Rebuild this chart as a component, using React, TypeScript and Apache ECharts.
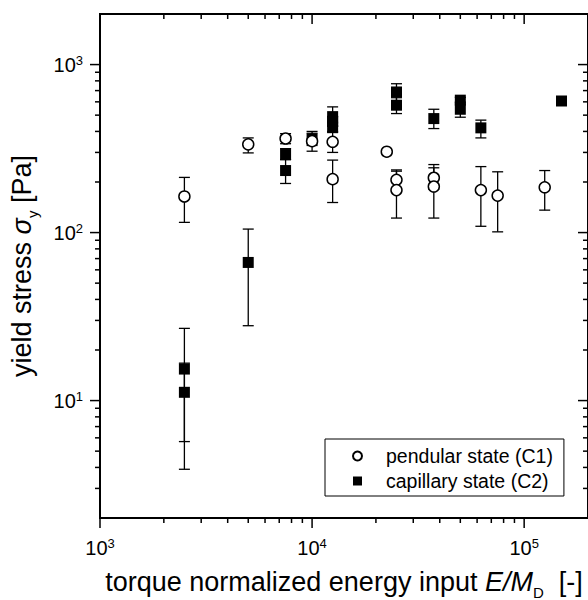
import React, { useEffect, useRef } from 'react';
import * as echarts from 'echarts';

const FONT = '"Liberation Sans", Arial, Helvetica, sans-serif';

const X_MIN = 1000;
const X_MAX = 200000;
const Y_MIN = 2;
const Y_MAX = 2000;

const xMajorTicks = [1000, 10000, 100000];
const xMinorTicks = [2000, 3000, 4000, 5000, 6000, 7000, 8000, 9000, 20000, 30000, 40000, 50000, 60000, 70000, 80000, 90000];
const yMajorTicks = [10, 100, 1000];
const yMinorTicks = [3, 4, 5, 6, 7, 8, 9, 20, 30, 40, 50, 60, 70, 80, 90, 200, 300, 400, 500, 600, 700, 800, 900];

const pendularName = 'pendular state (C1)';
const pendularE = [2500, 5000, 7500, 10000, 12500, 12500, 22500, 25000, 25000, 37500, 37500, 62500, 75000, 125000];
const pendularStress = [164, 335, 363, 350, 347, 208, 303, 206, 179, 212, 188, 179, 166, 186];
const pendularLow = [115, 298, 338, 305, 300, 151, 298, 180, 122, 181, 122, 109, 101, 136];
const pendularHigh = [213, 366, 388, 400, 394, 270, 308, 232, 236, 243, 254, 247, 230, 234];

const capillaryName = 'capillary state (C2)';
const capillaryE = [2500, 2500, 5000, 7500, 7500, 10000, 12500, 12500, 12500, 25000, 25000, 37500, 50000, 50000, 62500, 150000];
const capillaryStress = [15.4, 11.2, 66.4, 294, 234, 360, 490, 460, 424, 687, 573, 477, 614, 542, 420, 607];
const capillaryLow = [3.9, 5.7, 27.9, 272, 196, 330, 430, 430, 400, 605, 511, 416, 590, 486, 366, 595];
const capillaryHigh = [26.9, 16.7, 104.9, 316, 272, 390, 560, 490, 450, 769, 635, 542, 638, 598, 467, 619];

const xTitle = '{n|torque normalized energy input }{i|E/M}{d|D}{n|  [-]}';
const yTitle = '{n|yield stress }{i|σ}{d|y}{n| [Pa]}';

const tickStyle = { stroke: '#000', lineWidth: 1.5 };
const labelRich = {
  b: { fontSize: 20, lineHeight: 22, fontFamily: FONT, fill: '#000', color: '#000' },
  s: { fontSize: 13, lineHeight: 8, verticalAlign: 'top', fontFamily: FONT, fill: '#000', color: '#000' },
};

function expLabel(v: number) {
  return '{b|10}{s|' + String(Math.round(Math.log10(v))) + '}';
}

function renderXTick(params: any, api: any) {
  const v = api.value(0);
  const major = api.value(2) === 1;
  const len = major ? 10 : 5;
  const pb = api.coord([v, Y_MIN]);
  const pt = api.coord([v, Y_MAX]);
  const children: any[] = [
    { type: 'line', shape: { x1: pb[0], y1: pb[1], x2: pb[0], y2: pb[1] + len }, style: tickStyle },
    { type: 'line', shape: { x1: pt[0], y1: pt[1], x2: pt[0], y2: pt[1] + len }, style: tickStyle },
  ];
  if (major) {
    children.push({
      type: 'text',
      x: pb[0],
      y: pb[1] + 19,
      style: { text: expLabel(v), rich: labelRich, align: 'center', verticalAlign: 'top', fill: '#000' },
    });
  }
  return { type: 'group', children };
}

function renderYTick(params: any, api: any) {
  const v = api.value(1);
  const major = api.value(2) === 1;
  const len = major ? 10 : 5;
  const pl = api.coord([X_MIN, v]);
  const pr = api.coord([X_MAX, v]);
  const children: any[] = [
    { type: 'line', shape: { x1: pl[0] - len, y1: pl[1], x2: pl[0], y2: pl[1] }, style: tickStyle },
    { type: 'line', shape: { x1: pr[0] - len, y1: pr[1], x2: pr[0], y2: pr[1] }, style: tickStyle },
  ];
  if (major) {
    children.push({
      type: 'text',
      x: pl[0] - 17,
      y: pl[1],
      style: { text: expLabel(v), rich: labelRich, align: 'right', verticalAlign: 'middle', fill: '#000' },
    });
  }
  return { type: 'group', children };
}

function renderErrorBar(params: any, api: any) {
  const x = api.value(0);
  const lo = api.coord([x, api.value(1)]);
  const hi = api.coord([x, api.value(2)]);
  const hw = 5.5;
  const style = { stroke: '#000', lineWidth: 1.3 };
  return {
    type: 'group',
    children: [
      { type: 'line', shape: { x1: lo[0], y1: lo[1], x2: hi[0], y2: hi[1] }, style },
      { type: 'line', shape: { x1: lo[0] - hw, y1: lo[1], x2: lo[0] + hw, y2: lo[1] }, style },
      { type: 'line', shape: { x1: hi[0] - hw, y1: hi[1], x2: hi[0] + hw, y2: hi[1] }, style },
    ],
  };
}

export default function App() {
  const ref = useRef<HTMLDivElement>(null);
  useEffect(() => {
    if (!ref.current) return;
    const chart = echarts.init(ref.current, undefined, { renderer: 'svg' });

    const xTickData = [
      ...xMajorTicks.map((v) => [v, 10, 1]),
      ...xMinorTicks.map((v) => [v, 10, 0]),
    ];
    const yTickData = [
      ...yMajorTicks.map((v) => [X_MIN, v, 1]),
      ...yMinorTicks.map((v) => [X_MIN, v, 0]),
    ];
    const pendularPts = pendularE.map((e, i) => [e, pendularStress[i]]);
    const capillaryPts = capillaryE.map((e, i) => [e, capillaryStress[i]]);
    const pendularErr = pendularE.map((e, i) => [e, pendularLow[i], pendularHigh[i]]);
    const capillaryErr = capillaryE.map((e, i) => [e, capillaryLow[i], capillaryHigh[i]]);

    const titleRich = {
      n: { fontSize: 27, lineHeight: 36, fontFamily: FONT, color: '#000' },
      i: { fontSize: 27, lineHeight: 36, fontFamily: FONT, fontStyle: 'italic', color: '#000' },
      d: { fontSize: 15, lineHeight: 6, verticalAlign: 'bottom', fontFamily: FONT, color: '#000' },
    };

    const option: any = {
      animation: false,
      backgroundColor: '#fff',
      grid: {
        left: 100,
        top: 14,
        right: 0,
        bottom: 82,
        containLabel: false,
        outerBoundsMode: 'none',
        show: true,
        borderColor: '#000',
        borderWidth: 2,
        backgroundColor: 'transparent',
      },
      xAxis: {
        type: 'log',
        logBase: 10,
        min: X_MIN,
        max: X_MAX,
        axisLine: { show: false },
        axisTick: { show: false },
        axisLabel: { show: false },
        splitLine: { show: false },
        name: xTitle,
        nameLocation: 'middle',
        nameGap: 46,
        nameTextStyle: { rich: titleRich, fontFamily: FONT, fontSize: 27, color: '#000' },
      },
      yAxis: {
        type: 'log',
        logBase: 10,
        min: Y_MIN,
        max: Y_MAX,
        axisLine: { show: false },
        axisTick: { show: false },
        axisLabel: { show: false },
        splitLine: { show: false },
        name: yTitle,
        nameLocation: 'middle',
        nameRotate: 90,
        nameGap: 60,
        nameTextStyle: { rich: titleRich, fontFamily: FONT, fontSize: 27, color: '#000' },
      },
      legend: {
        data: [pendularName, capillaryName],
        orient: 'vertical',
        left: 325,
        top: 439,
        padding: [7, 11, 5, 27],
        itemGap: 5,
        itemWidth: 9,
        itemHeight: 9,
        borderColor: '#000',
        borderWidth: 1,
        borderRadius: 0,
        backgroundColor: '#fff',
        textStyle: { fontSize: 19.5, lineHeight: 20, fontFamily: FONT, color: '#000', padding: [0, 0, 0, 19] },
      },
      series: [
        {
          type: 'custom',
          name: 'xticks',
          data: xTickData,
          encode: { x: 0, y: 1 },
          renderItem: renderXTick,
          clip: false,
          silent: true,
          z: 5,
        },
        {
          type: 'custom',
          name: 'yticks',
          data: yTickData,
          encode: { x: 0, y: 1 },
          renderItem: renderYTick,
          clip: false,
          silent: true,
          z: 5,
        },
        {
          type: 'custom',
          name: 'capillaryErr',
          data: capillaryErr,
          encode: { x: 0, y: [1, 2] },
          renderItem: renderErrorBar,
          clip: false,
          silent: true,
          z: 2,
        },
        {
          type: 'custom',
          name: 'pendularErr',
          data: pendularErr,
          encode: { x: 0, y: [1, 2] },
          renderItem: renderErrorBar,
          clip: false,
          silent: true,
          z: 2,
        },
        {
          type: 'scatter',
          name: capillaryName,
          data: capillaryPts,
          symbol: 'rect',
          symbolSize: 11,
          itemStyle: { color: '#000', opacity: 1 },
          z: 3,
        },
        {
          type: 'scatter',
          name: pendularName,
          data: pendularPts,
          symbol: 'circle',
          symbolSize: 11,
          itemStyle: { color: '#fff', borderColor: '#000', borderWidth: 1.5, opacity: 1 },
          z: 4,
        },
      ],
    };
    chart.setOption(option);
    return () => chart.dispose();
  }, []);

  return (
    <div
      ref={ref}
      style={{ position: 'fixed', left: 0, top: 0, width: 588, height: 600, background: '#fff' }}
    />
  );
}
